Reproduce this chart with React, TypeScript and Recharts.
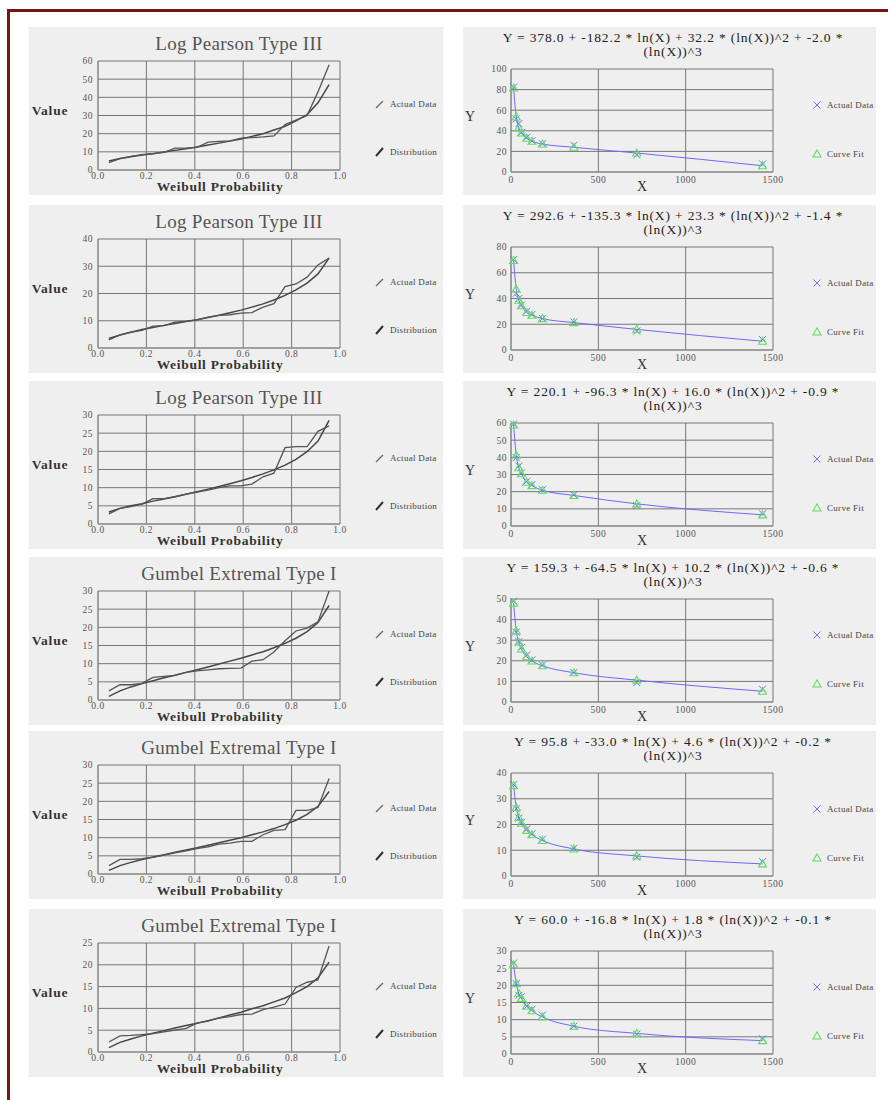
import React from "react"
import { CartesianGrid, ComposedChart, Line, LineChart, Scatter, XAxis, YAxis } from "recharts"

// weibull plotting positions i/(n+1), n = 21
const weibullP = [0.045, 0.091, 0.136, 0.182, 0.227, 0.273, 0.318, 0.364, 0.409, 0.455, 0.5, 0.545, 0.591, 0.636, 0.682, 0.727, 0.773, 0.818, 0.864, 0.909, 0.955]
const probTicks = [0, 0.2, 0.4, 0.6, 0.8, 1.0]

const lp1Actual = [4, 6.2, 7.5, 8.5, 9, 9.7, 12, 12, 12.5, 15.3, 15.8, 16, 17.5, 17.8, 18.2, 18.8, 25, 27.5, 30, 43, 58]
const lp1Dist = [5, 6.3, 7.3, 8.2, 9, 9.9, 10.8, 11.7, 12.7, 13.7, 14.8, 15.9, 17.1, 18.5, 20, 22, 24, 27, 30.5, 37, 47]
const lp2Actual = [3, 4.8, 5.8, 6.5, 8, 8.2, 9.5, 9.8, 10.3, 11.3, 12, 12.2, 12.8, 13, 15, 16.3, 22.5, 23.5, 26, 30.5, 33]
const lp2Dist = [3.5, 4.8, 5.8, 6.8, 7.5, 8.3, 9, 9.7, 10.4, 11.2, 12, 12.9, 13.9, 15, 16.2, 17.6, 19.3, 21.3, 23.8, 27.2, 33]
const lp3Actual = [2.8, 4.3, 4.8, 5.5, 7, 7, 7.5, 8.2, 8.8, 9.3, 10, 10.5, 10.5, 11, 13, 14, 21, 21.3, 21.3, 25.5, 27]
const lp3Dist = [3.3, 4.3, 5, 5.6, 6.3, 6.9, 7.5, 8.2, 8.9, 9.6, 10.3, 11.1, 11.9, 12.8, 13.8, 14.9, 16.2, 17.8, 19.9, 22.8, 28.5]
const gu1Actual = [2.5, 4.2, 4.2, 4.6, 6.2, 6.5, 6.8, 7.6, 8, 8.3, 8.6, 8.7, 8.8, 10.7, 11.1, 13.2, 16.3, 19, 19.8, 21.5, 30]
const gu1Dist = [1, 2.5, 3.6, 4.5, 5.3, 6.1, 6.8, 7.6, 8.3, 9.1, 9.9, 10.7, 11.5, 12.4, 13.3, 14.4, 15.6, 17, 18.8, 21.3, 26]
const gu2Actual = [2.3, 4, 4, 4.2, 4.6, 5.2, 5.8, 6.4, 7, 7.5, 8.2, 8.5, 9, 9, 10.8, 12, 12.2, 17.5, 17.5, 18.3, 26.3]
const gu2Dist = [1, 2.3, 3.2, 4, 4.7, 5.3, 6, 6.6, 7.2, 7.9, 8.6, 9.3, 10, 10.8, 11.6, 12.5, 13.6, 14.8, 16.4, 18.6, 22.7]
const gu3Actual = [2.3, 3.7, 3.8, 4, 4.2, 4.6, 5, 5.4, 6.6, 7.1, 7.8, 8.1, 8.6, 8.7, 9.7, 10.3, 11, 14.8, 16, 16.5, 24.3]
const gu3Dist = [1, 2.2, 3, 3.7, 4.3, 4.9, 5.5, 6.1, 6.6, 7.2, 7.8, 8.5, 9.1, 9.9, 10.6, 11.5, 12.4, 13.6, 15, 17, 20.6]

// durations (minutes)
const durations = [15, 30, 45, 60, 90, 120, 180, 360, 720, 1440]
const durTicks = [0, 500, 1000, 1500]

const idf1Actual = [82.5, 51.5, 47, 38.5, 33.7, 30.4, 27.5, 25.9, 16.5, 7.8]
const idf1Fit = [81.5, 53.4, 42.7, 37.9, 32.7, 29.8, 27.2, 24, 18.4, 6.1]
const idf2Actual = [70.3, 44, 40, 34.9, 30.2, 27.6, 24.4, 21.8, 14.7, 8.1]
const idf2Fit = [69.5, 47.2, 38.6, 34.4, 29.1, 27, 24.4, 21.3, 16, 6.8]
const idf3Actual = [59.4, 39.8, 34.9, 31, 26, 24.1, 21.2, 18.2, 11.8, 7.1]
const idf3Fit = [58.8, 41.2, 33.9, 30.4, 25.5, 23.5, 20.8, 17.8, 12.9, 6.5]
const idf4Actual = [48.9, 33.9, 29.3, 26.4, 22.8, 20.4, 17.9, 14.3, 9.4, 6.2]
const idf4Fit = [48, 34.5, 29, 25.7, 22, 19.9, 17.6, 14.2, 10.6, 5.2]
const idf5Actual = [35.5, 26.1, 22.5, 20.9, 18.2, 16.4, 14.3, 10.8, 7.3, 5.6]
const idf5Fit = [35.1, 26.6, 22.7, 20.5, 17.7, 16, 13.8, 10.5, 7.8, 4.7]
const idf6Actual = [26.5, 20.5, 17.1, 16.7, 13.9, 13, 11.3, 8.1, 5.8, 4.4]
const idf6Fit = [26, 20.5, 17.6, 16.2, 14, 12.6, 10.8, 8.1, 6, 3.9]

const equations = [
  "Y = 378.0 + -182.2 * ln(X) + 32.2 * (ln(X))^2 + -2.0 *",
  "Y = 292.6 + -135.3 * ln(X) + 23.3 * (ln(X))^2 + -1.4 *",
  "Y = 220.1 + -96.3 * ln(X) + 16.0 * (ln(X))^2 + -0.9 *",
  "Y = 159.3 + -64.5 * ln(X) + 10.2 * (ln(X))^2 + -0.6 *",
  "Y = 95.8 + -33.0 * ln(X) + 4.6 * (ln(X))^2 + -0.2 *",
  "Y = 60.0 + -16.8 * ln(X) + 1.8 * (ln(X))^2 + -0.1 *",
]

const rowTops = [27, 205, 381, 557, 731, 909]

const leftPanels = [
  { title: "Log Pearson Type III", actual: lp1Actual, dist: lp1Dist, yTicks: [0, 10, 20, 30, 40, 50, 60] },
  { title: "Log Pearson Type III", actual: lp2Actual, dist: lp2Dist, yTicks: [0, 10, 20, 30, 40] },
  { title: "Log Pearson Type III", actual: lp3Actual, dist: lp3Dist, yTicks: [0, 5, 10, 15, 20, 25, 30] },
  { title: "Gumbel Extremal Type I", actual: gu1Actual, dist: gu1Dist, yTicks: [0, 5, 10, 15, 20, 25, 30] },
  { title: "Gumbel Extremal Type I", actual: gu2Actual, dist: gu2Dist, yTicks: [0, 5, 10, 15, 20, 25, 30] },
  { title: "Gumbel Extremal Type I", actual: gu3Actual, dist: gu3Dist, yTicks: [0, 5, 10, 15, 20, 25] },
]

const rightPanels = [
  { actual: idf1Actual, fit: idf1Fit, yTicks: [0, 20, 40, 60, 80, 100] },
  { actual: idf2Actual, fit: idf2Fit, yTicks: [0, 20, 40, 60, 80] },
  { actual: idf3Actual, fit: idf3Fit, yTicks: [0, 10, 20, 30, 40, 50, 60] },
  { actual: idf4Actual, fit: idf4Fit, yTicks: [0, 10, 20, 30, 40, 50] },
  { actual: idf5Actual, fit: idf5Fit, yTicks: [0, 10, 20, 30, 40] },
  { actual: idf6Actual, fit: idf6Fit, yTicks: [0, 5, 10, 15, 20, 25, 30] },
]

const SERIF = "'Liberation Serif', 'DejaVu Serif', serif"
const PANEL_BG = "#efefef"
const GRID = "#767676"
const tickStyle = { fontSize: 9.5, fill: "#555", fontFamily: SERIF, letterSpacing: 0.5 }
const legendText: React.CSSProperties = { position: "absolute", fontSize: 9, color: "#444", letterSpacing: 0.3, whiteSpace: "nowrap", transform: "translateY(-50%)" }

const centered = (x: number, y: number, extra: React.CSSProperties): React.CSSProperties => ({
  position: "absolute",
  left: x,
  top: y,
  transform: "translate(-50%, -50%)",
  whiteSpace: "nowrap",
  lineHeight: 1,
  ...extra,
})

function Cross(props: any) {
  const { cx, cy } = props
  const r = 3.5
  return (
    <path
      d={`M${cx - r},${cy - r}L${cx + r},${cy + r}M${cx + r},${cy - r}L${cx - r},${cy + r}`}
      stroke="#7272ff"
      strokeWidth={1}
      fill="none"
    />
  )
}

function Tri(props: any) {
  const { cx, cy } = props
  return (
    <path d={`M${cx},${cy - 4}L${cx + 4},${cy + 3}L${cx - 4},${cy + 3}Z`} stroke="#5fe05f" strokeWidth={1.1} fill="none" />
  )
}

function ProbPanel({ top, panel }: { top: number; panel: (typeof leftPanels)[number] }) {
  const rows = weibullP.map((p, i) => ({ p, actual: panel.actual[i], dist: panel.dist[i] }))
  const yMax = panel.yTicks[panel.yTicks.length - 1]
  return (
    <div style={{ position: "absolute", left: 29, top, width: 414, height: 168, background: PANEL_BG, overflow: "hidden", fontFamily: SERIF }}>
      <LineChart width={414} height={168} data={rows} margin={{ top: 34, right: 103, bottom: 0, left: 0 }} style={{ fontFamily: SERIF }}>
        <CartesianGrid stroke={GRID} />
        <XAxis
          type="number"
          dataKey="p"
          domain={[0, 1]}
          ticks={probTicks}
          interval={0}
          tickFormatter={(v: number) => v.toFixed(1)}
          height={25}
          tickLine={false}
          tickSize={0}
          tickMargin={2}
          axisLine={{ stroke: "#8a8a8a" }}
          tick={tickStyle}
        />
        <YAxis
          type="number"
          domain={[0, yMax]}
          ticks={panel.yTicks}
          interval={0}
          width={69}
          tickLine={false}
          tickSize={0}
          tickMargin={5}
          axisLine={{ stroke: "#8a8a8a" }}
          tick={tickStyle}
        />
        <Line type="linear" dataKey="dist" stroke="#464646" strokeWidth={1.5} dot={false} isAnimationActive={false} />
        <Line type="linear" dataKey="actual" stroke="#555555" strokeWidth={1.3} dot={false} isAnimationActive={false} />
      </LineChart>
      <div style={centered(210, 16, { fontSize: 19, color: "#555", letterSpacing: 0.3 })}>{panel.title}</div>
      <div style={centered(21, 84, { fontSize: 13.5, fontWeight: "bold", color: "#333", letterSpacing: 0.8 })}>Value</div>
      <div style={centered(191, 160, { fontSize: 13.5, fontWeight: "bold", color: "#333", letterSpacing: 0.7 })}>Weibull Probability</div>
      <svg style={{ position: "absolute", left: 346, top: 73 }} width={9} height={9}>
        <line x1={1} y1={8} x2={8} y2={1} stroke="#666" strokeWidth={1.2} />
      </svg>
      <div style={{ ...legendText, left: 361, top: 77 }}>Actual Data</div>
      <svg style={{ position: "absolute", left: 346, top: 120 }} width={9} height={10}>
        <line x1={1} y1={9} x2={8} y2={1} stroke="#333" strokeWidth={2} />
      </svg>
      <div style={{ ...legendText, left: 361, top: 125 }}>Distribution</div>
    </div>
  )
}

function FitPanel({ top, panel, equation }: { top: number; panel: (typeof rightPanels)[number]; equation: string }) {
  const actualPts = durations.map((x, i) => ({ x, y: panel.actual[i] }))
  const fitPts = durations.map((x, i) => ({ x, y: panel.fit[i] }))
  const yMax = panel.yTicks[panel.yTicks.length - 1]
  return (
    <div style={{ position: "absolute", left: 463, top, width: 413, height: 168, background: PANEL_BG, overflow: "hidden", fontFamily: SERIF }}>
      <ComposedChart width={413} height={168} margin={{ top: 42, right: 103, bottom: 0, left: 0 }} style={{ fontFamily: SERIF }}>
        <CartesianGrid stroke={GRID} />
        <XAxis
          type="number"
          dataKey="x"
          domain={[0, 1500]}
          ticks={durTicks}
          interval={0}
          height={23}
          tickLine={false}
          tickSize={0}
          tickMargin={4}
          axisLine={{ stroke: "#8a8a8a" }}
          tick={tickStyle}
        />
        <YAxis
          type="number"
          dataKey="y"
          domain={[0, yMax]}
          ticks={panel.yTicks}
          interval={0}
          width={48}
          tickLine={false}
          tickSize={0}
          tickMargin={4}
          axisLine={{ stroke: "#8a8a8a" }}
          tick={tickStyle}
        />
        <Line data={fitPts} type="monotone" dataKey="y" stroke="#6a6aff" strokeWidth={1} dot={false} isAnimationActive={false} />
        <Scatter data={actualPts} dataKey="y" shape={Cross} isAnimationActive={false} />
        <Scatter data={fitPts} dataKey="y" shape={Tri} isAnimationActive={false} />
      </ComposedChart>
      <div style={centered(210, 11, { fontSize: 13.5, color: "#222", letterSpacing: 0.85 })}>{equation}</div>
      <div style={centered(210, 25, { fontSize: 13.5, color: "#222", letterSpacing: 0.85 })}>(ln(X))^3</div>
      <div style={centered(7, 90, { fontSize: 14, color: "#333" })}>Y</div>
      <div style={centered(179, 160, { fontSize: 14, color: "#333" })}>X</div>
      <svg style={{ position: "absolute", left: 349, top: 73 }} width={10} height={10}>
        <path d="M1.5,1.5L8.5,8.5M8.5,1.5L1.5,8.5" stroke="#7272ff" strokeWidth={1} fill="none" />
      </svg>
      <div style={{ ...legendText, left: 364, top: 78 }}>Actual Data</div>
      <svg style={{ position: "absolute", left: 349, top: 122 }} width={10} height={10}>
        <path d="M5,1L9,8L1,8Z" stroke="#5fe05f" strokeWidth={1.1} fill="none" />
      </svg>
      <div style={{ ...legendText, left: 364, top: 127 }}>Curve Fit</div>
    </div>
  )
}

export default function App() {
  return (
    <div style={{ position: "absolute", left: 0, top: 0, width: 888, height: 1100, background: "#fff", fontFamily: SERIF, overflow: "hidden" }}>
      <div style={{ position: "absolute", left: 7, top: 9, width: 881, height: 3, background: "#7a1414" }} />
      <div style={{ position: "absolute", left: 7, top: 9, width: 3, height: 1091, background: "#7a1414" }} />
      {leftPanels.map((panel, i) => (
        <ProbPanel key={`l-${i}`} top={rowTops[i]} panel={panel} />
      ))}
      {rightPanels.map((panel, i) => (
        <FitPanel key={`r-${i}`} top={rowTops[i]} panel={panel} equation={equations[i]} />
      ))}
    </div>
  )
}
